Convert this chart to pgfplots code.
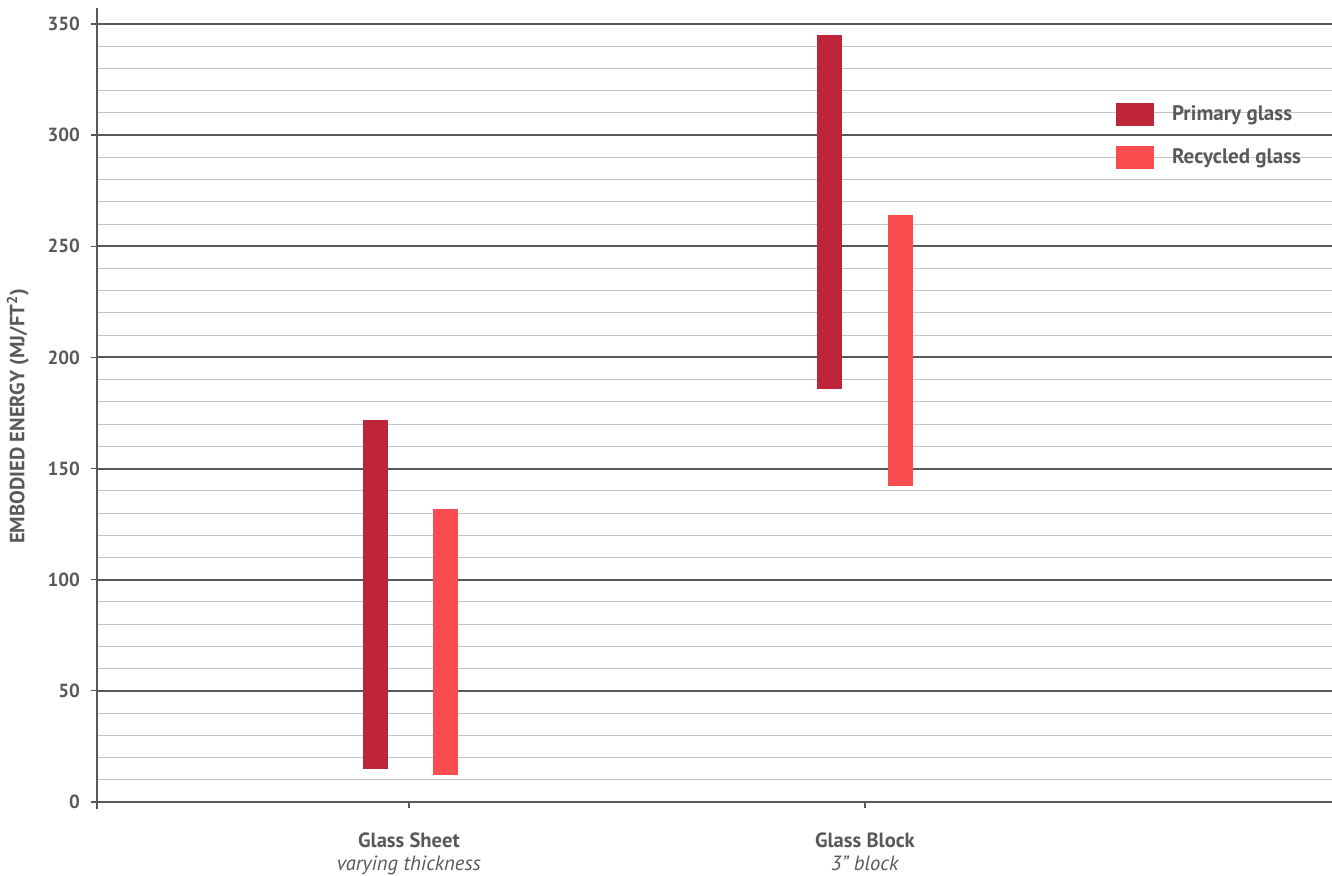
\documentclass[border=0pt]{standalone}
\usepackage{fontspec}
\setmainfont{PT Sans}
\usepackage{pgfplots}
\pgfplotsset{compat=1.18}

\definecolor{primary}{HTML}{BE253A}
\definecolor{recycled}{HTML}{FA4D50}
\definecolor{axisgray}{HTML}{58595B}
\definecolor{gridlight}{HTML}{C4C4C4}
\definecolor{txt}{HTML}{58595B}

\begin{document}
\begin{tikzpicture}
\begin{axis}[
  scale only axis,
  width=617.5pt, height=396.8pt,
  xmin=0.316, xmax=3.024,
  ymin=0, ymax=357,
  axis lines=left,
  axis line style={-, draw=axisgray, line width=1pt},
  y axis line style={shorten <=-3.5pt},
  ytick={0,50,...,350},
  minor ytick={0,10,...,350},
  xtick={1,2},
  xticklabels={{\textbf{Glass Sheet}\\\textit{varying thickness}},
                {\textbf{Glass Block}\\\textit{3” block}}},
  ymajorgrids, yminorgrids,
  major grid style={draw=axisgray, line width=1pt},
  minor grid style={draw=gridlight, line width=0.5pt},
  tick align=outside,
  major tick length=3pt,
  minor tick length=0pt,
  tick style={draw=axisgray, line width=0.6pt},
  /pgf/number format/assume math mode=true,
  yticklabel style={font=\bfseries\fontsize{9.5}{11}\selectfont, text=txt, xshift=-2pt},
  xticklabel style={font=\fontsize{10.3}{11.2}\selectfont, text=txt, align=center, yshift=-9pt},
  ylabel={EMBODIED ENERGY (MJ/FT\textsuperscript{2})},
  every axis y label/.style={at={(axis description cs:-0.064,0.486)}, rotate=90, anchor=center,
    font=\bfseries\fontsize{10.3}{12}\selectfont, text=txt},
  legend style={at={(rel axis cs:0.825,0.881)}, anchor=north west, draw=none, fill=none,
    font=\bfseries\fontsize{10.5}{12}\selectfont, text=txt, row sep=10pt,
    inner sep=0pt, nodes={inner sep=0pt}},
  legend cell align=left,
  clip=false,
]
% legend swatches
\addlegendimage{legend image code/.code={\fill[primary] (0pt,-5.5pt) rectangle (18.5pt,5.5pt);}}
\addlegendentry{\hspace{9pt}Primary glass}
\addlegendimage{legend image code/.code={\fill[recycled] (0pt,-5.5pt) rectangle (18.5pt,5.5pt);}}
\addlegendentry{\hspace{9pt}Recycled glass}

% floating range bars: (position, low) -> (position, high)
\addplot[draw=primary, line width=12.5pt, line cap=butt, forget plot]
  coordinates {(0.927,15) (0.927,172)};
\addplot[draw=recycled, line width=12.5pt, line cap=butt, forget plot]
  coordinates {(1.081,12) (1.081,132)};
\addplot[draw=primary, line width=12.5pt, line cap=butt, forget plot]
  coordinates {(1.923,186) (1.923,345)};
\addplot[draw=recycled, line width=12.5pt, line cap=butt, forget plot]
  coordinates {(2.078,142) (2.078,264)};
\end{axis}
\pgfresetboundingbox
\useasboundingbox (-48.5pt,-37pt) rectangle (617.5pt,401pt);
\end{tikzpicture}
\end{document}
